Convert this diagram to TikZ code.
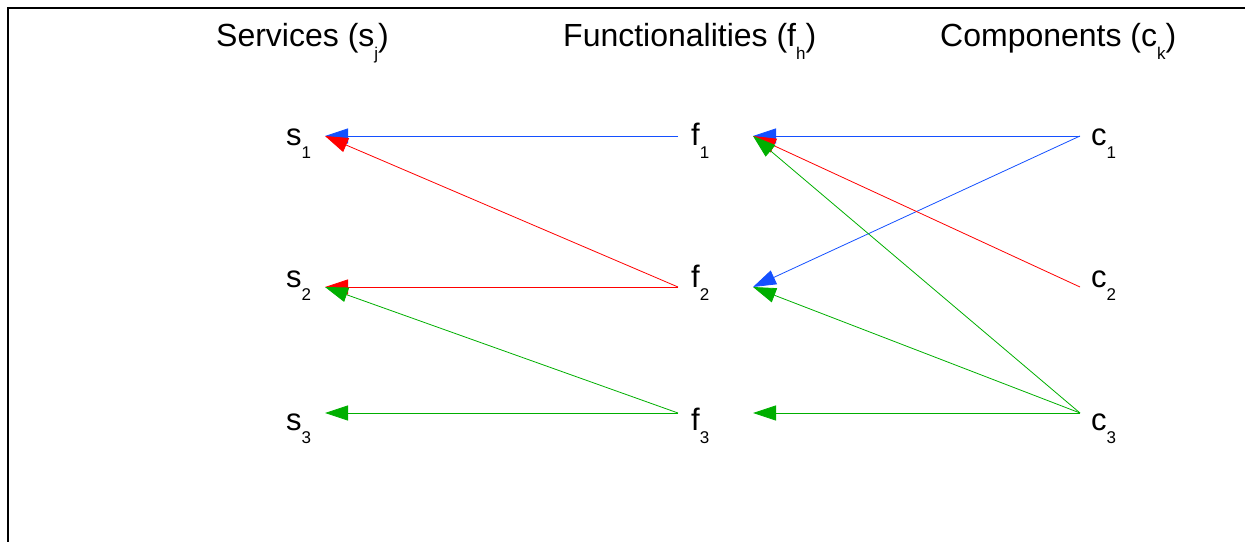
\documentclass[tikz,border=0pt]{standalone}
\usepackage{fontspec}
\setmainfont{Liberation Sans}
\usetikzlibrary{arrows.meta}
\definecolor{eblue}{RGB}{20,80,255}
\definecolor{ered}{RGB}{255,0,0}
\definecolor{egreen}{RGB}{0,175,0}
\newcommand{\mainfs}{\fontsize{31}{31}\selectfont}
\newcommand{\titlefs}{\fontsize{32}{32}\selectfont}
\newcommand{\subfs}{\fontsize{17}{17}\selectfont}
\newcommand{\lowsub}[1]{\raisebox{-13pt}{\subfs #1}}
\tikzset{
  lbl/.style={anchor=base west, inner sep=0pt, font=\mainfs},
  ttl/.style={anchor=base west, inner sep=0pt, font=\titlefs},
  edge/.style={line width=0.8pt, -{Triangle[length=23pt,width=15pt]}},
}
\begin{document}
\begin{tikzpicture}[x=1pt,y=-1pt]
\useasboundingbox (0,0) rectangle (1245,541);
\clip (0,0) rectangle (1245,541);
\draw[line width=2pt] (8,7.5) rectangle (1260,560);
% titles
\node[ttl] (tS) at (216,46) {Services (s\lowsub{j})};
\node[ttl] (tF) at (563,46) {Functionalities (f\lowsub{h})};
\node[ttl] (tC) at (940,46) {Components (c\lowsub{k})};
% anchor points
\coordinate (s1) at (325,136);
\coordinate (s2) at (325,287);
\coordinate (s3) at (325,413);
\coordinate (f1o) at (678,136);
\coordinate (f2o) at (678,287);
\coordinate (f3o) at (678,413);
\coordinate (f1i) at (753,136);
\coordinate (f2i) at (753,287);
\coordinate (f3i) at (753,413);
\coordinate (c1) at (1080,136);
\coordinate (c2) at (1080,287);
\coordinate (c3) at (1080,413);
% labels
\node[lbl] (ls1) at (286,145) {s\lowsub{1}};
\node[lbl] (ls2) at (286,287) {s\lowsub{2}};
\node[lbl] (ls3) at (286,430) {s\lowsub{3}};
\node[lbl] (lf1) at (691,145) {f\lowsub{1}};
\node[lbl] (lf2) at (691,287) {f\lowsub{2}};
\node[lbl] (lf3) at (691,430) {f\lowsub{3}};
\node[lbl] (lc1) at (1091,145) {c\lowsub{1}};
\node[lbl] (lc2) at (1091,287) {c\lowsub{2}};
\node[lbl] (lc3) at (1091,430) {c\lowsub{3}};
% blue
\draw[edge, eblue] (f1o) -- (s1);
\draw[edge, eblue] (c1) -- (f1i);
\draw[edge, eblue] (c1) -- (f2i);
% red
\draw[edge, ered] (f2o) -- (s1);
\draw[edge, ered] (f2o) -- (s2);
\draw[edge, ered] (c2) -- (f1i);
% green
\draw[edge, egreen] (f3o) -- (s2);
\draw[edge, egreen] (f3o) -- (s3);
\draw[edge, egreen] (c3) -- (f1i);
\draw[edge, egreen] (c3) -- (f2i);
\draw[edge, egreen] (c3) -- (f3i);
\end{tikzpicture}
\end{document}
